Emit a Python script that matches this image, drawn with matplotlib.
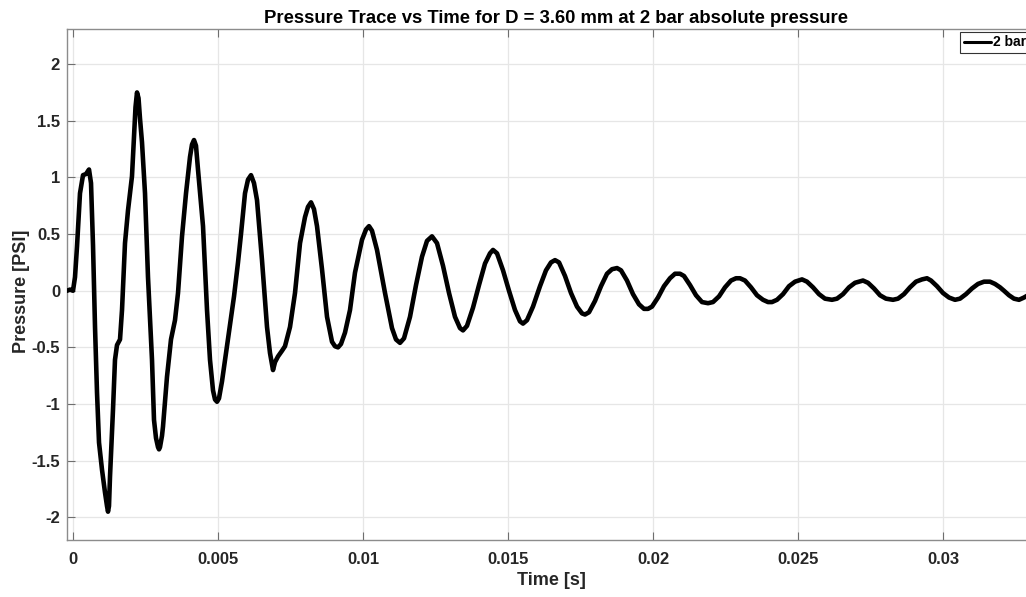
import matplotlib
matplotlib.use("Agg")
import matplotlib.pyplot as plt
import numpy as np

# Pressure trace samples: time in milliseconds, gauge pressure in PSI
time_ms = [
    -0.310, -0.207, -0.103, 0.000, 0.069, 0.138, 0.241, 0.345, 0.448, 0.552,
    0.621, 0.690, 0.759, 0.828, 0.897, 1.000, 1.103, 1.172, 1.207, 1.241,
    1.276, 1.379, 1.448, 1.517, 1.621, 1.690, 1.793, 1.897, 2.034, 2.103,
    2.155, 2.207, 2.259, 2.310, 2.379, 2.483, 2.586, 2.724, 2.793, 2.862,
    2.931, 2.966, 3.000, 3.069, 3.103, 3.241, 3.379, 3.517, 3.621, 3.759,
    3.897, 4.034, 4.103, 4.172, 4.241, 4.310, 4.483, 4.621, 4.724, 4.828,
    4.897, 4.966, 5.034, 5.138, 5.276, 5.414, 5.552, 5.690, 5.793, 5.931,
    6.034, 6.138, 6.241, 6.345, 6.517, 6.690, 6.793, 6.897, 6.966, 7.069,
    7.207, 7.310, 7.483, 7.655, 7.828, 8.000, 8.103, 8.207, 8.310, 8.414,
    8.586, 8.759, 8.931, 9.034, 9.138, 9.241, 9.379, 9.552, 9.724, 9.966,
    10.103, 10.207, 10.310, 10.483, 10.759, 11.000, 11.138, 11.276, 11.414, 11.621,
    11.828, 12.034, 12.207, 12.379, 12.552, 12.759, 12.966, 13.172, 13.345, 13.448,
    13.586, 13.793, 14.000, 14.207, 14.379, 14.483, 14.621, 14.828, 15.034, 15.241,
    15.414, 15.517, 15.655, 15.862, 16.103, 16.310, 16.483, 16.621, 16.759, 16.966,
    17.172, 17.379, 17.552, 17.655, 17.793, 18.000, 18.207, 18.414, 18.586, 18.759,
    18.897, 19.103, 19.310, 19.517, 19.690, 19.828, 19.966, 20.172, 20.379, 20.586,
    20.759, 20.931, 21.069, 21.276, 21.483, 21.690, 21.897, 22.069, 22.276, 22.483,
    22.690, 22.862, 23.000, 23.172, 23.379, 23.586, 23.793, 23.966, 24.103, 24.276,
    24.483, 24.690, 24.897, 25.138, 25.310, 25.517, 25.724, 25.931, 26.172, 26.345,
    26.552, 26.759, 26.966, 27.241, 27.414, 27.621, 27.828, 28.034, 28.276, 28.448,
    28.655, 28.862, 29.069, 29.276, 29.448, 29.586, 29.793, 30.000, 30.207, 30.414,
    30.586, 30.793, 31.000, 31.207, 31.414, 31.621, 31.793, 31.966, 32.103, 32.276,
    32.448, 32.621, 32.793, 33.000,
]
pressure_psi = [
    0.01, 0.00, 0.01, 0.00, 0.12, 0.39, 0.86, 1.02, 1.03, 1.07,
    0.95, 0.40, -0.32, -0.90, -1.34, -1.58, -1.78, -1.90, -1.95, -1.90,
    -1.64, -1.05, -0.61, -0.48, -0.43, -0.17, 0.42, 0.71, 1.01, 1.35,
    1.62, 1.75, 1.70, 1.52, 1.31, 0.86, 0.12, -0.61, -1.14, -1.30,
    -1.38, -1.40, -1.38, -1.28, -1.20, -0.76, -0.43, -0.26, -0.02, 0.48,
    0.86, 1.18, 1.29, 1.33, 1.28, 1.07, 0.57, -0.17, -0.61, -0.88,
    -0.96, -0.98, -0.95, -0.80, -0.55, -0.30, -0.05, 0.25, 0.50, 0.86,
    0.98, 1.02, 0.95, 0.80, 0.27, -0.32, -0.55, -0.70, -0.63, -0.58,
    -0.53, -0.49, -0.32, -0.02, 0.42, 0.65, 0.74, 0.78, 0.72, 0.57,
    0.19, -0.23, -0.45, -0.49, -0.50, -0.47, -0.37, -0.17, 0.16, 0.45,
    0.54, 0.57, 0.53, 0.36, -0.02, -0.33, -0.43, -0.46, -0.42, -0.23,
    0.05, 0.30, 0.44, 0.48, 0.42, 0.22, -0.02, -0.23, -0.33, -0.35,
    -0.31, -0.15, 0.05, 0.24, 0.33, 0.36, 0.33, 0.18, 0.00, -0.17,
    -0.27, -0.29, -0.26, -0.14, 0.04, 0.18, 0.25, 0.27, 0.25, 0.13,
    -0.02, -0.14, -0.20, -0.21, -0.19, -0.09, 0.04, 0.15, 0.19, 0.20,
    0.18, 0.09, -0.03, -0.12, -0.16, -0.16, -0.14, -0.06, 0.04, 0.11,
    0.15, 0.15, 0.13, 0.05, -0.04, -0.10, -0.11, -0.10, -0.05, 0.03,
    0.09, 0.11, 0.11, 0.09, 0.03, -0.04, -0.08, -0.10, -0.10, -0.08,
    -0.03, 0.04, 0.08, 0.10, 0.08, 0.03, -0.03, -0.07, -0.08, -0.07,
    -0.03, 0.03, 0.07, 0.09, 0.07, 0.02, -0.04, -0.07, -0.08, -0.07,
    -0.03, 0.03, 0.08, 0.10, 0.11, 0.09, 0.04, -0.02, -0.06, -0.08,
    -0.07, -0.03, 0.02, 0.06, 0.08, 0.08, 0.06, 0.03, 0.00, -0.04,
    -0.07, -0.08, -0.06, -0.03,
]

x_ticks = [0, 0.005, 0.01, 0.015, 0.02, 0.025, 0.03]
x_tick_labels = ["0", "0.005", "0.01", "0.015", "0.02", "0.025", "0.03"]
y_ticks = [-2, -1.5, -1, -0.5, 0, 0.5, 1, 1.5, 2]
y_tick_labels = ["-2", "-1.5", "-1", "-0.5", "0", "0.5", "1", "1.5", "2"]
series_label = "2 bar"

plt.rcParams["font.family"] = ["Liberation Sans", "DejaVu Sans"]
plt.rcParams["font.weight"] = "bold"

fig = plt.figure(figsize=(10.26, 5.97), dpi=100)
ax = fig.add_axes([67 / 1026, 57 / 597, 969 / 1026, 511 / 597])

t_s = np.asarray(time_ms) / 1000.0
ax.plot(t_s, pressure_psi, color="black", lw=3.3, solid_joinstyle="round",
        solid_capstyle="round", label=series_label, zorder=3)

ax.set_xlim(-0.000207, 0.033207)
ax.set_ylim(-2.2, 2.31)
ax.set_xticks(x_ticks)
ax.set_xticklabels(x_tick_labels)
ax.set_yticks(y_ticks)
ax.set_yticklabels(y_tick_labels)

ax.grid(True, color="#e6e6e6", lw=0.9)
ax.set_axisbelow(True)
for s in ax.spines.values():
    s.set_color("#8c8c8c")
    s.set_linewidth(1.0)
ax.tick_params(direction="in", length=6, width=0.8, color="#6e6e6e",
               top=True, right=True, labelsize=12, labelcolor="#262626")
ax.tick_params(axis="x", pad=9)
ax.tick_params(axis="y", pad=5)

ax.set_xlabel("Time [s]", fontsize=13, fontweight="bold", color="#262626", labelpad=3)
ax.set_ylabel("Pressure [PSI]", fontsize=13, fontweight="bold", color="#262626", labelpad=3)
ax.yaxis.set_label_coords(-0.038, 0.487)
ax.set_title("Pressure Trace vs Time for D = 3.60 mm at 2 bar absolute pressure",
             fontsize=13.3, fontweight="bold", color="black", pad=4, x=0.505)

leg = ax.legend(loc="upper right", bbox_to_anchor=(1 - 6 / 969, 1 - 3 / 511),
                fontsize=10, frameon=True, fancybox=False, handlelength=2.0,
                handletextpad=0.15, borderpad=0.25, borderaxespad=0.0)
leg.get_frame().set_edgecolor("black")
leg.get_frame().set_linewidth(0.8)
for line in leg.get_lines():
    line.set_linewidth(2.2)

fig.savefig("out.png", dpi=100)
